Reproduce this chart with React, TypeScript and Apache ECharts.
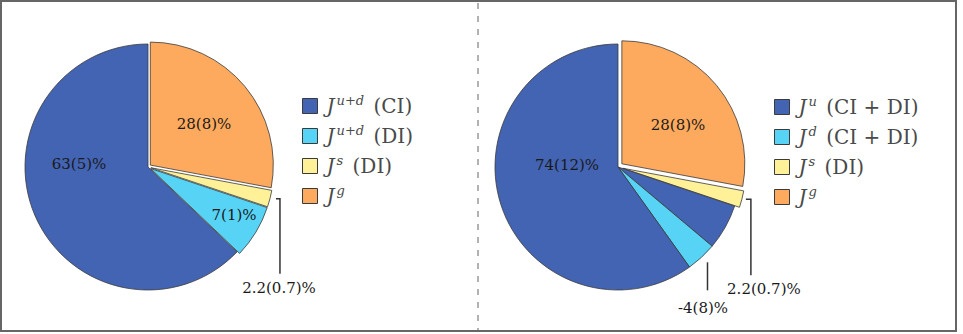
import React, { useEffect, useRef } from "react";
import * as echarts from "echarts";

// ---- data ----
const leftNames = ["Jg", "Js_DI", "Jud_DI", "Jud_CI"];
const leftValues = [28, 2.2, 7, 63];
const leftSelected = [true, true, true, false];
const leftLegendOrder = ["Jud_CI", "Jud_DI", "Js_DI", "Jg"];

const rightNames = ["Jg", "Js_DI", "Ju", "Jd", "Ju_rest"];
const rightValues = [28, 2.2, 6, 4, 60];
const rightSelected = [true, true, false, false, false];
const rightLegendOrder = ["Ju", "Jd", "Js_DI", "Jg"];

const legendText: Record<string, string> = {
  Jud_CI: "{j|J}{s|u+d}{t| (CI)}",
  Jud_DI: "{j|J}{s|u+d}{t| (DI)}",
  Js_DI: "{j|J}{s|s}{t| (DI)}",
  Jg: "{j|J}{s|g}",
  Ju: "{j|J}{s|u}{t| (CI + DI)}",
  Jd: "{j|J}{s|d}{t| (CI + DI)}",
};

const colorOf: Record<string, string> = {
  Jud_CI: "#4363b3",
  Ju: "#4363b3",
  Ju_rest: "#4363b3",
  Jud_DI: "#57d4f5",
  Jd: "#57d4f5",
  Js_DI: "#fff197",
  Jg: "#fdaa5e",
};

// inside labels: [text, dx, dy] relative to pie centre
const leftInside: [string, number, number][] = [
  ["63(5)%", -69, -3],
  ["28(8)%", 56, -43],
  ["7(1)%", 86, 48],
];
const rightInside: [string, number, number][] = [
  ["74(12)%", -51, -2],
  ["28(8)%", 60, -42],
];

// ---- layout ----
const W = 963;
const H = 334;
const R = 123;
const LC: [number, number] = [148, 167];
const RC: [number, number] = [618, 167];
const FONT = "DejaVu Serif";

function edgePoint(c: [number, number], r: number, values: number[], idx: number) {
  const total = values.reduce((a, b) => a + b, 0);
  let cum = 0;
  for (let i = 0; i < idx; i++) cum += values[i];
  cum += values[idx] / 2;
  const th = (cum / total) * Math.PI * 2;
  return [c[0] + r * Math.sin(th), c[1] - r * Math.cos(th)];
}

function labelText(text: string, x: number, y: number) {
  return {
    type: "text",
    x,
    y,
    style: {
      text,
      fontFamily: FONT,
      fontSize: 15,
      fill: "#1a1a1a",
      align: "center",
      verticalAlign: "middle",
    },
    z: 10,
  };
}

function leader(
  c: [number, number],
  r: number,
  values: number[],
  idx: number,
  pts: number[][],
  lab: number[],
  text: string
) {
  const a = edgePoint(c, r, values, idx);
  return [
    {
      type: "polyline",
      shape: { points: pts.map((p) => [a[0] + p[0], a[1] + p[1]]) },
      style: { stroke: "#333", lineWidth: 1.5, fill: null },
      z: 10,
    },
    labelText(text, a[0] + lab[0], a[1] + lab[1]),
  ];
}

function insideTexts(c: [number, number], list: [string, number, number][]) {
  return list.map(([t, dx, dy]) => labelText(t, c[0] + dx, c[1] + dy));
}

const LEG_COLOR = "#4a4a4a";
const rich = {
  j: {
    fontFamily: FONT,
    fontStyle: "italic",
    fontSize: 20,
    lineHeight: 24,
    color: LEG_COLOR,
    padding: [0, 0, 0, 4],
  },
  s: {
    fontFamily: FONT,
    fontStyle: "italic",
    fontSize: 13,
    lineHeight: 12,
    color: LEG_COLOR,
    verticalAlign: "top",
    padding: [0, 3, 0, 2],
  },
  t: { fontFamily: FONT, fontSize: 20, lineHeight: 24, color: LEG_COLOR },
};

function pieSeries(
  names: string[],
  values: number[],
  selected: boolean[],
  center: [number, number],
  offset: number
) {
  return {
    type: "pie",
    center,
    radius: R,
    startAngle: 90,
    clockwise: true,
    selectedMode: "multiple",
    selectedOffset: offset,
    avoidLabelOverlap: false,
    label: { show: false },
    labelLine: { show: false },
    emphasis: { disabled: true },
    itemStyle: { borderColor: "#3a3a3a", borderWidth: 0.8 },
    data: names.map((n, i) => ({
      name: n,
      value: values[i],
      selected: selected[i],
      itemStyle: { color: colorOf[n] },
    })),
  };
}

function legend(order: string[], left: number, top: number) {
  return {
    orient: "vertical",
    left,
    top,
    icon: "rect",
    itemWidth: 15,
    itemHeight: 15,
    itemGap: 6,
    selectedMode: false,
    data: order,
    itemStyle: { borderColor: "#3a3a3a", borderWidth: 1 },
    formatter: (n: string) => legendText[n],
    textStyle: { rich, fontFamily: FONT, fontSize: 20, lineHeight: 24, color: LEG_COLOR },
  };
}

export default function App() {
  const ref = useRef<HTMLDivElement>(null);
  useEffect(() => {
    document.body.style.margin = "0";
    const chart = echarts.init(ref.current!, undefined, { renderer: "svg" });
    chart.setOption({
      animation: false,
      backgroundColor: "#ffffff",
      legend: [legend(leftLegendOrder, 297, 89), legend(rightLegendOrder, 769, 90)],
      series: [
        pieSeries(leftNames, leftValues, leftSelected, LC, 3),
        pieSeries(rightNames, rightValues, rightSelected, RC, 5),
      ],
      graphic: [
        {
          type: "rect",
          shape: { x: 1, y: 1, width: 955, height: 330 },
          style: { fill: null, stroke: "#666", lineWidth: 2 },
          silent: true,
        },
        {
          type: "line",
          shape: { x1: 478, y1: 3, x2: 478, y2: 330 },
          style: { stroke: "#999", lineWidth: 1.5, lineDash: [6, 7] },
          silent: true,
        },
        ...insideTexts(LC, leftInside),
        ...insideTexts(RC, rightInside),
        ...leader(LC, R + 3, leftValues, 1, [[6, 0], [10, 0], [10, 75]], [9, 89], "2.2(0.7)%"),
        ...leader(RC, R + 5, rightValues, 1, [[4, 0], [9, 0], [9, 76]], [22, 90], "2.2(0.7)%"),
        ...leader(RC, R, rightValues, 3, [[6, 5], [6, 33]], [1.5, 51], "-4(8)%"),
      ],
    });
    return () => chart.dispose();
  }, []);
  return <div ref={ref} style={{ width: W, height: H }} />;
}
